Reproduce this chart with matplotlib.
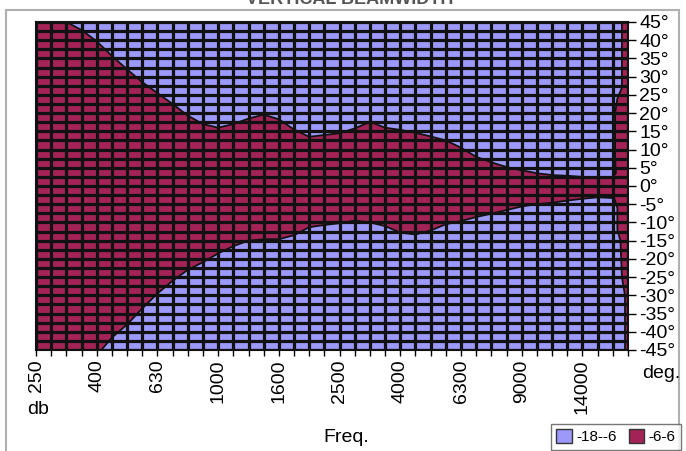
import matplotlib
matplotlib.use("Agg")
import matplotlib.pyplot as plt
from matplotlib.patches import Patch, Rectangle

plt.rcParams['font.family'] = ['Liberation Sans', 'DejaVu Sans']

# frequency categories (Hz), one per grid column
freqs = [250, 280, 315, 355, 400, 450, 500, 560, 630, 710, 800, 900, 1000,
         1120, 1250, 1400, 1600, 1800, 2000, 2240, 2500, 2800, 3150, 3550,
         4000, 4500, 5000, 5600, 6300, 7100, 7500, 8000, 9000, 10000, 11200,
         12500, 14000, 16000, 18000, 20000]
tick_freqs = freqs[::4][:10]

# -6 dB contour: upper and lower angle (deg) for columns 0..38
upper_deg = [45.5, 45.5, 45, 42.8, 39.7, 35.7, 32, 28.5, 25.5, 22.5, 19.3, 17,
             16, 17, 18.5, 19.6, 18.3, 15.5, 13.5, 14, 14.5, 15.8, 17.6, 16,
             15.4, 14.6, 13.6, 12.5, 10.5, 8, 6.5, 5.2, 4.3, 3.5, 3, 2.8, 2.5,
             2.2, 2.5]
lower_deg = [-46, -46, -46, -46, -46.5, -41.6, -38, -33.6, -29.5, -26, -23,
             -20.9, -18.5, -16.5, -15, -14.6, -14.6, -13.5, -11.3, -10.7,
             -10.2, -9.5, -10, -11, -12.8, -13.3, -12.2, -10.5, -9.6, -8.5,
             -7.6, -6.6, -5.6, -5, -4.6, -4, -3.5, -3.1, -3.3]

# contour along the last column (position in column units, angle)
edge_top_x = [38.2, 38.15, 38.15, 38.3, 38.6, 38.6]
edge_top_deg = [3.5, 8, 20, 24, 27, 46]
edge_bot_x = [38.8, 38.8, 38.6, 38.5, 38.3, 38.3, 38.1]
edge_bot_deg = [-46, -30, -25, -15, -12, -6, -3.5]

levels = ['-18--6', '-6-6']
blue = '#9c99fa'
red = '#a32357'

fig = plt.figure(figsize=(6.86, 4.51), dpi=100)
fig.patches.append(Rectangle((6 / 686, -0.05), 673 / 686, 1.05 - 10 / 451,
                             transform=fig.transFigure, fill=False,
                             edgecolor='#b0b0b0', lw=1.5))
ax = fig.add_axes([36 / 686, 1 - 350 / 451, 592 / 686, 328 / 451])
ax.set_facecolor(blue)

n = len(upper_deg)
poly = [(-1, 46)]
poly += [(i, upper_deg[i]) for i in range(n)]
poly += list(zip(edge_top_x, edge_top_deg))
poly += [(40, 46), (40, -46)]
poly += list(zip(edge_bot_x, edge_bot_deg))
poly += [(i, lower_deg[i]) for i in range(n - 1, -1, -1)]
poly += [(-1, -46)]
xs, ys = zip(*poly)
ax.fill(xs, ys, facecolor=red, edgecolor='#111111', lw=1.3, zorder=1)

ax.set_xlim(0, len(freqs) - 1)
ax.set_ylim(-45, 45)

ax.set_xticks(range(0, 37, 4))
ax.set_xticklabels([str(f) for f in tick_freqs], rotation=90, fontsize=14)
ax.set_xticks(range(len(freqs)), minor=True)
yt = list(range(-45, 50, 5))
ax.yaxis.tick_right()
ax.set_yticks(yt)
ax.set_yticklabels([f"{v}°" for v in yt], fontsize=14)
ax.set_yticks([v + 2.5 for v in yt[:-1]], minor=True)
ax.tick_params(axis='y', which='major', length=6, width=1, pad=2)
ax.tick_params(axis='y', which='minor', length=0)
ax.tick_params(axis='x', which='both', length=4, width=1, pad=3)
ax.tick_params(axis='y', which='major', labelsize=14)

ax.set_axisbelow(False)
ax.grid(True, which='both', color='#111111', lw=2.3)
for sp in ax.spines.values():
    sp.set_color('#111111')
    sp.set_linewidth(1.5)

fig.text(38 / 686, 1 - 410 / 451, 'db', fontsize=14, ha='center', va='center')
fig.text(661 / 686, 1 - 373 / 451, 'deg.', fontsize=14, ha='center', va='center')
fig.text(346 / 686, 1 - 437 / 451, 'Freq.', fontsize=14, ha='center', va='center')
fig.text(0.51, 1.0, 'VERTICAL BEAMWIDTH', fontsize=13, fontweight='bold',
         color='#555555', ha='center', va='center')

handles = [Patch(facecolor=blue, edgecolor='#333333'),
           Patch(facecolor=red, edgecolor='#333333')]
fig.legend(handles, levels, loc='upper left', ncol=2,
           bbox_to_anchor=(551 / 686, 1 - 424 / 451), fontsize=11,
           frameon=True, fancybox=False, edgecolor='#555555',
           handlelength=1.0, handleheight=1.0, handletextpad=0.3,
           columnspacing=0.8, borderpad=0.35, borderaxespad=0)

fig.savefig('out.png', dpi=100)
